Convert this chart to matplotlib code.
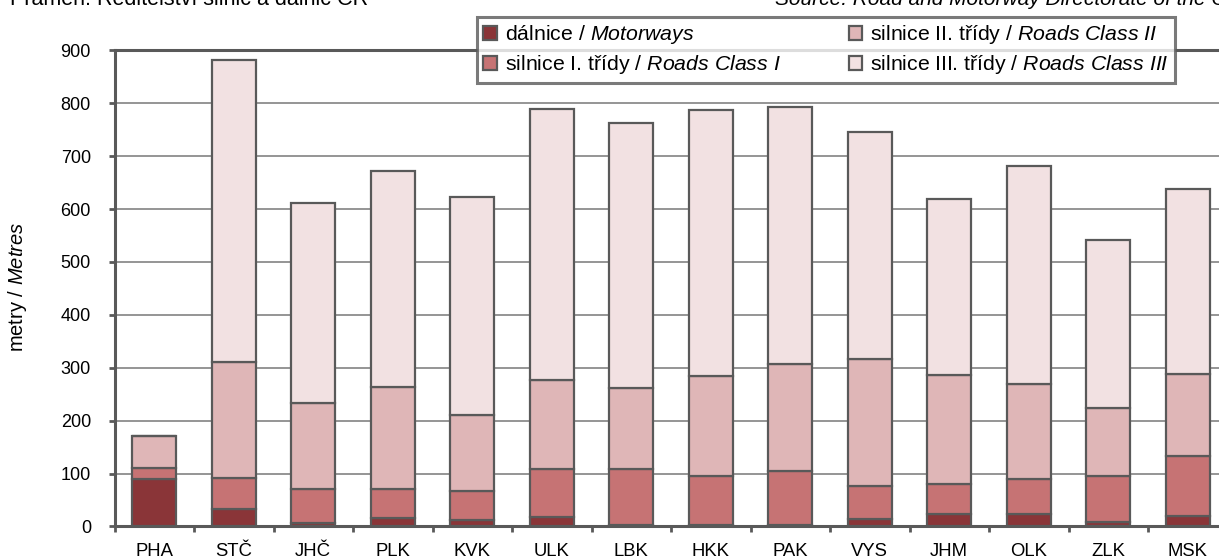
import numpy as np
import matplotlib
matplotlib.use("Agg")
import matplotlib.pyplot as plt

plt.rcParams['font.family'] = ['Liberation Sans', 'DejaVu Sans']
plt.rcParams['mathtext.fontset'] = 'custom'
plt.rcParams['mathtext.rm'] = 'Liberation Sans'
plt.rcParams['mathtext.it'] = 'Liberation Sans:italic'

# kraje
regions = ['PHA', 'STČ', 'JHČ', 'PLK', 'KVK', 'ULK', 'LBK', 'HKK', 'PAK', 'VYS', 'JHM', 'OLK', 'ZLK', 'MSK']

# metry na km2
motorways = [90, 32, 6, 16, 12, 18, 2, 3, 3, 14, 23, 23, 9, 19]
class_1 = [20, 60, 64, 54, 55, 90, 106, 93, 102, 62, 58, 67, 87, 115]
class_2 = [61, 219, 163, 194, 143, 169, 154, 188, 202, 240, 205, 179, 128, 155]
class_3 = [0, 570, 378, 408, 413, 512, 501, 504, 486, 430, 333, 412, 317, 349]

labels = [r'dálnice / $\mathit{Motorways}$',
          r'silnice I. třídy / $\mathit{Roads\ Class\ I}$',
          r'silnice II. třídy / $\mathit{Roads\ Class\ II}$',
          r'silnice III. třídy / $\mathit{Roads\ Class\ III}$']
colors = ['#8a3538', '#c67374', '#dfb6b7', '#f2e1e2']
edge = '#595959'

fig = plt.figure(figsize=(12.19, 5.6), dpi=100)
ax = fig.add_axes([114.5 / 1219, 1 - 526.4 / 560, 1113 / 1219, 476 / 560])

x = np.arange(len(regions))
bottom = np.zeros(len(regions))
for vals, col, lab in zip([motorways, class_1, class_2, class_3], colors, labels):
    ax.bar(x, vals, width=0.555, bottom=bottom, color=col, edgecolor=edge,
           linewidth=1.6, label=lab, zorder=3)
    bottom += np.array(vals)

ax.set_xlim(-0.5, len(regions) - 0.5)
ax.set_ylim(0, 900)
ax.set_yticks(range(0, 901, 100))
ax.yaxis.grid(True, color='#8c8c8c', linewidth=1.3, zorder=0)
ax.set_xticks(x)
ax.set_xticklabels(regions)
ax.set_xticks(np.arange(-0.5, len(regions), 1), minor=True)
ax.tick_params(axis='x', which='major', length=0, pad=12, labelsize=13.3)
ax.tick_params(axis='x', which='minor', length=4, width=2, color=edge, direction='out')
ax.tick_params(axis='y', length=4, width=2, color=edge, labelsize=13, pad=13)
for s in ax.spines.values():
    s.set_color(edge)
    s.set_linewidth(2.2)

fig.text(18 / 1219, 1 - 287 / 560, r'metry / $\mathit{Metres}$', fontsize=14.5,
         rotation=90, ha='center', va='center')

leg = fig.legend(loc='upper left', bbox_to_anchor=(477 / 1219, 1 - 17 / 560),
                 ncol=2, fontsize=15.3, frameon=True, fancybox=False,
                 handlelength=0.62, handleheight=0.62, handletextpad=0.4,
                 columnspacing=3.2, labelspacing=0.32, borderpad=0.3,
                 borderaxespad=0)
leg.get_frame().set_edgecolor(edge)
leg.get_frame().set_linewidth(2.2)

fig.text(10 / 1219, 1 - 5 / 560, 'Pramen: Ředitelství silnic a dálnic ČR',
         fontsize=15.5, va='baseline', ha='left')
fig.text(775 / 1219, 1 - 5 / 560, 'Source: Road and Motorway Directorate of the CR',
         fontsize=15, va='baseline', ha='left', style='italic')

fig.savefig('out.png', dpi=100)
